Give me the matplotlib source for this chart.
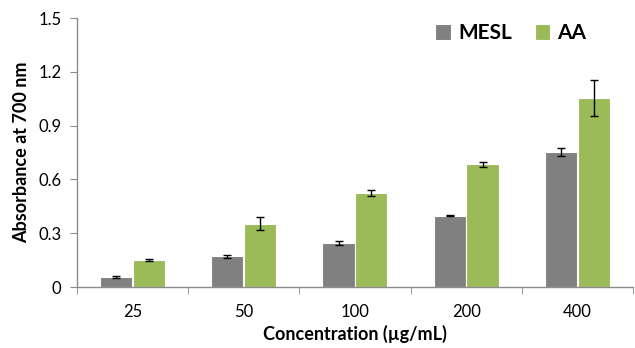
#!/usr/bin/env python3

import numpy as np
import matplotlib.pyplot as plt
from matplotlib.ticker import FixedLocator

plt.rcParams['font.family'] = ['Lato', 'DejaVu Sans']

concentrations = ['25', '50', '100', '200', '400']
mesl_abs = [0.056, 0.173, 0.246, 0.398, 0.755]
mesl_err = [0.005, 0.008, 0.012, 0.004, 0.022]
aa_abs   = [0.151, 0.353, 0.526, 0.684, 1.054]
aa_err   = [0.004, 0.037, 0.018, 0.016, 0.100]
y_ticks  = [0, 0.3, 0.6, 0.9, 1.2, 1.5]
y_labels = ['0', '0.3', '0.6', '0.9', '1.2', '1.5']

GRAY  = '#808080'
GREEN = '#9bbb59'
AXIS  = '#8c8c8c'

def main():
    fig = plt.figure(figsize = (6.35, 3.48), dpi = 100)
    ax = fig.add_axes([0.121, 0.175, 0.876, 0.773])

    x = np.arange(len(concentrations))
    width = 0.29
    offset = 0.147

    err_kw = dict(ecolor = 'black', elinewidth = 1.0, capsize = 3, capthick = 1.0)
    ax.bar(x - offset, mesl_abs, width, yerr = mesl_err, color = GRAY,
           edgecolor = 'white', linewidth = 0.8, label = 'MESL',
           error_kw = err_kw)
    ax.bar(x + offset, aa_abs, width, yerr = aa_err, color = GREEN,
           edgecolor = 'white', linewidth = 0.8, label = 'AA',
           error_kw = err_kw)

    ax.set_xlim(-0.5, len(concentrations) - 0.5)
    ax.set_ylim(0, 1.5)

    ax.set_xticks(x)
    ax.set_xticklabels(concentrations, fontsize = 12)
    ax.xaxis.set_minor_locator(FixedLocator(np.arange(-0.5, len(concentrations), 1.0)))
    ax.tick_params(axis = 'x', which = 'major', length = 0, pad = 12)
    ax.tick_params(axis = 'x', which = 'minor', length = 5, color = AXIS, direction = 'out')

    ax.set_yticks(y_ticks)
    ax.set_yticklabels(y_labels, fontsize = 12)
    ax.tick_params(axis = 'y', length = 5, color = AXIS, pad = 6)

    for side in ['top', 'right']:
        ax.spines[side].set_visible(False)
    for side in ['left', 'bottom']:
        ax.spines[side].set_color(AXIS)
        ax.spines[side].set_linewidth(1.0)

    ax.set_xlabel('Concentration (\u00b5g/mL)', fontsize = 13, fontweight = 'bold', labelpad = 4)
    ax.set_ylabel('Absorbance at 700 nm', fontsize = 13, fontweight = 'bold', labelpad = 6)

    ax.legend(loc = 'upper right', bbox_to_anchor = (0.95, 1.05), ncol = 2,
              frameon = False, handlelength = 0.75, handleheight = 0.75,
              handletextpad = 0.35, columnspacing = 1.1,
              prop = dict(size = 15, weight = 'bold'))

    fig.savefig('out.png', dpi = 100)

if __name__ == "__main__":
    main()
